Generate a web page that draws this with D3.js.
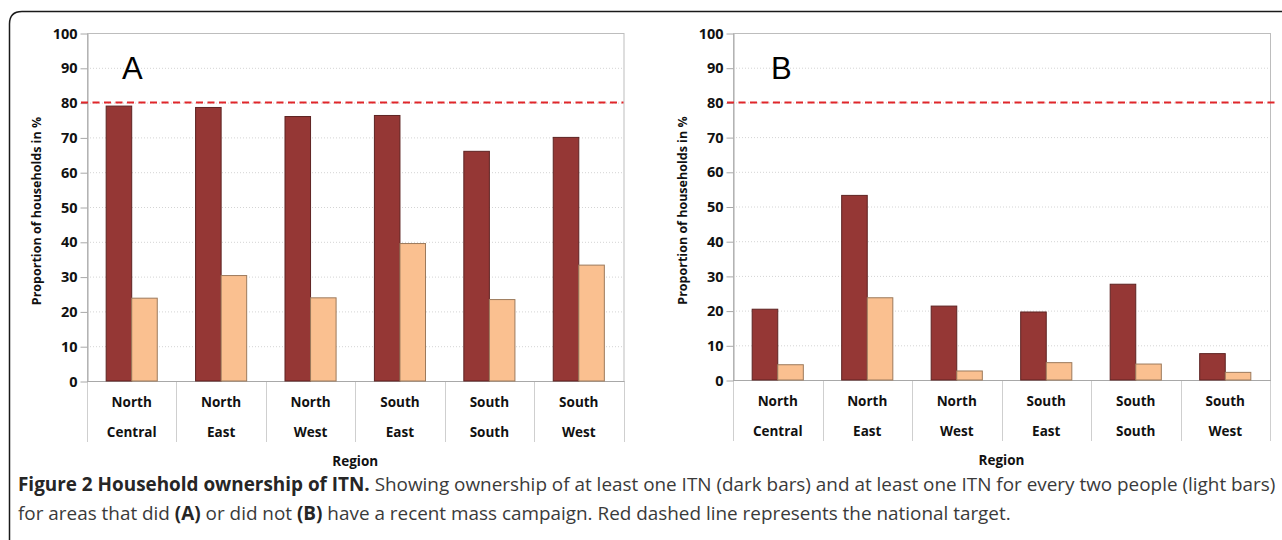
<!DOCTYPE html>
<html>
<head>
<meta charset="utf-8">
<script src="https://cdn.jsdelivr.net/npm/d3@7"></script>
<style>
  html, body { margin: 0; padding: 0; background: #fff; }
  svg { display: block; }
  .axis text { font-family: "Open Sans", "Noto Sans", sans-serif; font-weight: bold; font-size: 14.5px; fill: #111; }
  .lbl { font-family: "Open Sans", "Noto Sans", sans-serif; font-weight: bold; fill: #111; }
  .caption { font-family: "Open Sans", "Noto Sans", sans-serif; fill: #3a3a3a; }
</style>
</head>
<body>
<div id="chart"></div>
<script>
var regionTop = ["North", "North", "North", "South", "South", "South"];
var regionBottom = ["Central", "East", "West", "East", "South", "West"];
var yTicks = [0, 10, 20, 30, 40, 50, 60, 70, 80, 90, 100];
var nationalTarget = 80;

// A: areas with a recent mass campaign
var anyItnA = [79.0, 78.6, 76.0, 76.3, 66.0, 70.0];
var perTwoA = [23.8, 30.3, 23.9, 39.5, 23.4, 33.3];
// B: areas without
var anyItnB = [20.4, 53.2, 21.3, 19.6, 27.6, 7.6];
var perTwoB = [4.4, 23.7, 2.6, 5.0, 4.6, 2.2];

var width = 1282, height = 540;

var svg = d3.select("#chart").append("svg")
    .attr("width", width)
    .attr("height", height);

// outer frame, rounded top-left corner
svg.append("path")
    .attr("d", "M9.5,540 L9.5,24 Q9.5,11.5 22,11.5 L1282,11.5")
    .attr("fill", "none")
    .attr("stroke", "#1a1a1a")
    .attr("stroke-width", 1.5);

var color = { any: "#953735", two: "#fac090" };
var stroke = { any: "#5e2322", two: "#9c7a5c" };

function drawPanel(p) {
  var x = d3.scaleBand()
      .domain(d3.range(regionTop.length))
      .range([p.left, p.right]);

  var x1 = d3.scaleBand()
      .domain(["any", "two"])
      .range([0, x.bandwidth()])
      .paddingOuter(0.75);

  var y = d3.scaleLinear()
      .domain([0, 100])
      .range([p.bottom, p.top]);

  var g = svg.append("g");

  // dotted gridlines
  g.selectAll(".grid")
    .data(yTicks.filter(function(d) { return d > 0 && d < 100; }))
    .enter().append("line")
      .attr("x1", p.left).attr("x2", p.right)
      .attr("y1", function(d) { return y(d) + 0.5; })
      .attr("y2", function(d) { return y(d) + 0.5; })
      .attr("stroke", "#d4d4d4")
      .attr("stroke-dasharray", "1,2");

  // plot frame
  g.append("rect")
    .attr("x", p.left + 0.5).attr("y", y(100) + 0.5)
    .attr("width", p.right - p.left).attr("height", y(0) - y(100))
    .attr("fill", "none")
    .attr("stroke", "#bdbdbd");

  // category separators below the axis
  var seps = d3.range(regionTop.length + 1).map(function(i) {
    return i < regionTop.length ? x(i) : p.right;
  });
  g.selectAll(".sep")
    .data(seps)
    .enter().append("line")
      .attr("x1", function(d) { return Math.round(d) + 0.5; })
      .attr("x2", function(d) { return Math.round(d) + 0.5; })
      .attr("y1", y(0))
      .attr("y2", p.sepBottom)
      .attr("stroke", "#cfcfcf");

  // y axis
  var yAxis = g.append("g")
      .attr("class", "axis")
      .attr("transform", "translate(" + (p.left + 0.5) + ",0.5)")
      .call(d3.axisLeft(y).tickValues(yTicks).tickSize(7).tickSizeOuter(0).tickPadding(3));
  yAxis.select(".domain").attr("stroke", "#a8a8a8");
  yAxis.selectAll(".tick line").attr("stroke", "#a8a8a8");

  // x baseline
  g.append("line")
    .attr("x1", p.left).attr("x2", p.right + 1)
    .attr("y1", y(0) + 0.5).attr("y2", y(0) + 0.5)
    .attr("stroke", "#a8a8a8");

  // bars
  var cat = g.selectAll(".cat")
    .data(d3.range(regionTop.length))
    .enter().append("g")
      .attr("transform", function(i) { return "translate(" + x(i) + ",0)"; });

  cat.selectAll("rect")
    .data(function(i) { return [{ k: "any", v: p.any[i] }, { k: "two", v: p.two[i] }]; })
    .enter().append("rect")
      .attr("x", function(d) { return x1(d.k); })
      .attr("y", function(d) { return y(d.v); })
      .attr("width", x1.bandwidth())
      .attr("height", function(d) { return y(0) - y(d.v); })
      .attr("fill", function(d) { return color[d.k]; })
      .attr("stroke", function(d) { return stroke[d.k]; })
      .attr("stroke-width", 1);

  // category labels
  cat.append("text")
    .attr("class", "lbl")
    .attr("x", x.bandwidth() / 2)
    .attr("y", p.bottom + 26)
    .attr("text-anchor", "middle")
    .style("font-size", "13.5px")
    .text(function(i) { return regionTop[i]; });
  cat.append("text")
    .attr("class", "lbl")
    .attr("x", x.bandwidth() / 2)
    .attr("y", p.bottom + 56)
    .attr("text-anchor", "middle")
    .style("font-size", "13.5px")
    .text(function(i) { return regionBottom[i]; });

  // national target
  g.append("line")
    .attr("x1", p.left - 6).attr("x2", p.lineEnd)
    .attr("y1", y(nationalTarget)).attr("y2", y(nationalTarget))
    .attr("stroke", "#e0262a")
    .attr("stroke-width", 2)
    .attr("stroke-dasharray", "7,4.5");

  // panel letter
  g.append("text")
    .attr("x", p.letterX)
    .attr("y", 79)
    .style("font-family", "'Liberation Sans', Arial, sans-serif")
    .style("font-size", "31px")
    .attr("fill", "#000")
    .text(p.letter);

  // axis titles
  g.append("text")
    .attr("class", "lbl")
    .attr("transform", "translate(" + (p.left - 46) + "," + ((p.top + p.bottom) / 2 + 4) + ") rotate(-90)")
    .attr("text-anchor", "middle")
    .style("font-size", "12.5px")
    .text("Proportion of households in %");

  g.append("text")
    .attr("class", "lbl")
    .attr("x", (p.left + p.right) / 2)
    .attr("y", p.bottom + 85)
    .attr("text-anchor", "middle")
    .style("font-size", "13.5px")
    .text("Region");
}

drawPanel({ left: 87, right: 623.5, top: 33, bottom: 381, sepBottom: 442, lineEnd: 623.5,
            letter: "A", letterX: 122, any: anyItnA, two: perTwoA });
drawPanel({ left: 733, right: 1270, top: 33, bottom: 380, sepBottom: 441, lineEnd: 1275,
            letter: "B", letterX: 771, any: anyItnB, two: perTwoB });

// caption
var cap1 = svg.append("text").attr("class", "caption").attr("x", 18).attr("y", 491);
cap1.append("tspan").style("font-weight", "bold").attr("fill", "#262626")
    .text("Figure 2 Household ownership of ITN.");
cap1.append("tspan")
    .text(" Showing ownership of at least one ITN (dark bars) and at least one ITN for every two people (light bars)");

var cap2 = svg.append("text").attr("class", "caption").attr("x", 18).attr("y", 520);
cap2.append("tspan").text("for areas that did ");
cap2.append("tspan").style("font-weight", "bold").attr("fill", "#262626").text("(A)");
cap2.append("tspan").text(" or did not ");
cap2.append("tspan").style("font-weight", "bold").attr("fill", "#262626").text("(B)");
cap2.append("tspan").text(" have a recent mass campaign. Red dashed line represents the national target.");

// fit caption font to the width of the first line
cap1.style("font-size", "16px");
var w = cap1.node().getComputedTextLength();
var fs = 16 * (1258 / w);
cap1.style("font-size", fs + "px");
cap2.style("font-size", fs + "px");
</script>
</body>
</html>
